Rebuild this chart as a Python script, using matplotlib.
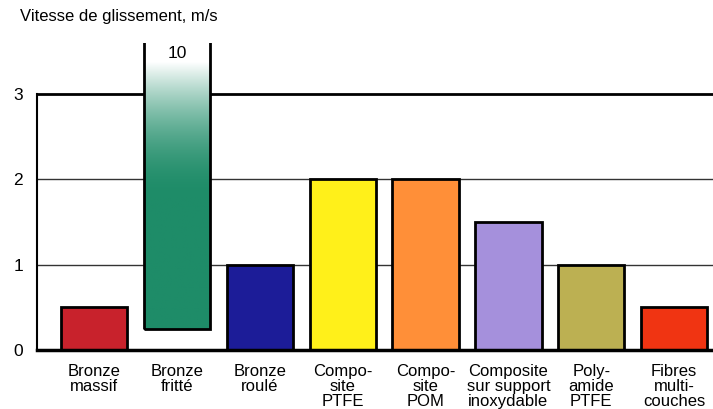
import numpy as np
import matplotlib.pyplot as plt
from matplotlib.colors import to_rgb

# Vitesse de glissement admissible par type de palier
categories = ["Bronze\nmassif", "Bronze\nfritté", "Bronze\nroulé", "Compo-\nsite\nPTFE",
              "Compo-\nsite\nPOM", "Composite\nsur support\ninoxydable", "Poly-\namide\nPTFE",
              "Fibres\nmulti-\ncouches"]
vitesse = [0.5, 10, 1, 2, 2, 1.5, 1, 0.5]
base = [0, 0.25, 0, 0, 0, 0, 0, 0]
colors = ["#c8222c", "#1e8c68", "#1c1c98", "#fff01a", "#ff8f38", "#a590dc", "#bcb052", "#f03412"]
yticks = [0, 1, 2, 3]

plt.rcParams['font.family'] = ['Liberation Sans', 'DejaVu Sans']

fig = plt.figure(figsize=(7.13, 4.09), dpi=100)
ax = fig.add_axes([37 / 713, 59 / 409, 1 - 37 / 713, 307 / 409])
ymax = 307 / 85.3
ax.set_xlim(-0.69, 7.47)
ax.set_ylim(0, ymax)

# grid lines
for y in yticks[1:3]:
    ax.axhline(y, color="#333333", lw=1.0, zorder=0)
ax.axhline(3, color="black", lw=2.0, zorder=0)

x = np.arange(len(categories))
width = 0.8
bars = ax.bar(x, np.array(vitesse) - np.array(base), bottom=base, width=width,
              color=colors, edgecolor="black", linewidth=2.0, zorder=2)

# bronze fritté: off-scale bar, faded towards the top
i = 1
bars[i].set_facecolor("none")
c = np.array(to_rgb(colors[i]))
ys = np.linspace(base[i], ymax, 300)
t = np.clip((ys - 1.8) / (3.38 - 1.8), 0, 1)[:, None] ** 1.8
grad = (1 - t) * c + t * np.ones(3)
img = ax.imshow(grad[:, None, :], extent=[x[i] - width / 2, x[i] + width / 2, base[i], ymax],
                origin="lower", aspect="auto", zorder=1.5, interpolation="bilinear")
img.set_clip_path(bars[i])
ax.set_xlim(-0.69, 7.47)
ax.set_ylim(0, ymax)
ax.text(x[i], 3.48, "10", ha="center", va="center", fontsize=12.5)

ax.set_yticks(yticks)
ax.set_yticklabels([str(v) for v in yticks], fontsize=12.5)
ax.set_xticks(x)
ax.set_xticklabels(categories, fontsize=12, linespacing=1.02)
ax.tick_params(axis="y", length=0, pad=10)
ax.tick_params(axis="x", length=0, pad=10)

for s in ["top", "right"]:
    ax.spines[s].set_visible(False)
ax.spines["left"].set_bounds(0, 3)
ax.spines["left"].set_linewidth(1.5)
ax.spines["bottom"].set_linewidth(2.5)

fig.text(20 / 713, 1 - 16 / 409, "Vitesse de glissement, m/s", fontsize=12, va="center")

fig.savefig("out.png", dpi=100)
